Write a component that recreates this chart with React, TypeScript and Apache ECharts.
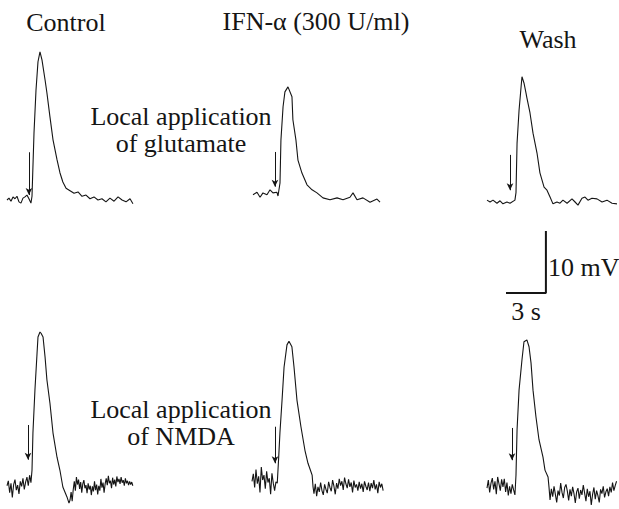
import React, { useEffect, useRef } from "react";
import * as echarts from "echarts";

// ---------- text ----------
const columnTitles = ["Control", "IFN-α (300 U/ml)", "Wash"];
const gluLabel = ["Local application", "of glutamate"];
const nmdaLabel = ["Local application", "of NMDA"];
const scaleLabels = ["10 mV", "3 s"];
const scaleBarSec = 3;
const scaleBarMv = 10;

// ---------- traces: [time (s), membrane potential change (mV)] ----------
const gluControl = [
  [0, 0], [0.15, 0.3], [0.3, -0.2], [0.45, 0.5], [0.6, 0.2], [0.75, 0.6], [0.9, -0.3], [1.05, -0.5],
  [1.2, 0.3], [1.35, 0.5], [1.5, 0.8], [1.65, 0.2], [1.8, -0.5], [1.88, 0.6], [2.03, 10.8], [2.18, 17.7],
  [2.33, 22.3], [2.48, 23.9], [2.63, 22.6], [2.86, 19.4], [3.0, 17.3], [3.23, 13.4], [3.46, 9.7],
  [3.76, 6.5], [3.98, 4.4], [4.2, 2.9], [4.44, 1.9], [4.74, 1.5], [5.04, 1.1], [5.34, 1.3], [5.64, 0.6],
  [5.94, 0.8], [6.24, 0.2], [6.54, 0.5], [6.84, 0], [7.14, 0.2], [7.44, -0.3], [7.74, 0.3], [8.05, -0.2],
  [8.35, 0.5], [8.65, 0], [8.95, -0.3], [9.25, 0.2], [9.47, -0.6],
];
const gluIfn = [
  [0, 0.2], [0.3, 0.6], [0.53, -0.2], [0.75, 0.5], [1.05, 0.2], [1.28, 1.0], [1.5, 0.5], [1.8, 0.6],
  [1.88, 0], [2.03, 2.1], [2.1, 9.0], [2.26, 14.4], [2.4, 16.8], [2.63, 17.6], [2.93, 16.0], [3.0, 12.3],
  [3.23, 9.0], [3.38, 5.8], [3.68, 3.7], [4.06, 1.8], [4.44, 1.0], [4.81, 0.5], [5.26, -0.3], [5.79, -0.6],
  [6.32, -0.3], [6.77, -0.6], [7.29, -0.2], [7.52, 0.5], [7.82, -0.6], [8.27, -0.3], [8.8, -1.0],
  [9.32, -0.5], [9.55, -1.0],
];
const gluWash = [
  [0, 0.3], [0.23, 0], [0.45, 0.3], [0.75, -0.2], [0.98, 0.2], [1.2, -0.3], [1.5, 0], [1.73, -0.2],
  [2.1, 0.3], [2.18, 1.5], [2.26, 9.5], [2.41, 14.8], [2.56, 18.5], [2.63, 20.2], [2.78, 19.2], [2.93, 17.6],
  [3.0, 16.8], [3.23, 14.4], [3.46, 11.1], [3.76, 7.9], [3.98, 4.7], [4.29, 2.4], [4.51, 1.9], [4.74, 0.8],
  [4.96, -0.3], [5.26, 0], [5.49, -0.2], [5.71, 0.3], [6.02, -0.2], [6.39, 0.5], [6.62, 0], [6.84, -0.5],
  [7.14, 0.6], [7.37, 0.8], [7.59, 0.3], [7.89, 0.6], [8.27, 0.5], [8.65, 0], [9.02, 0.3], [9.4, -0.2],
  [9.77, -0.3],
];
const nmdaControl = [
  [0, 0.2], [0.1, 1.0], [0.2, -0.9], [0.3, 0.6], [0.4, -1.7], [0.5, 0.4], [0.6, 1.2], [0.7, -0.5],
  [0.8, 0.3], [0.9, -1.1], [1.0, 0.9], [1.1, 0.1], [1.2, 1.4], [1.3, -0.4], [1.4, 0.8], [1.5, 1.6],
  [1.6, 0.2], [1.7, 1.9], [1.8, 0.7], [1.88, 2.7], [1.95, 8.7], [2.1, 15.6], [2.26, 21.6], [2.33, 24.2],
  [2.48, 25.0], [2.56, 24.8], [2.71, 24.2], [2.86, 21.0], [3.0, 17.3], [3.23, 13.5], [3.46, 8.7],
  [3.76, 4.8], [3.98, 2.7], [4.2, 0], [4.51, -1.6], [4.66, -2.6], [4.74, -2.1], [4.82, -0.8], [4.9, -2.3],
  [4.98, -0.4], [5.06, 0.9], [5.14, -0.6], [5.22, 1.6], [5.3, 0.4], [5.38, 1.2], [5.46, -0.3], [5.54, 0.8],
  [5.62, -0.9], [5.7, 0.5], [5.78, 1.1], [5.86, -0.2], [5.94, 0.3], [6.02, -1.0], [6.1, 0.6], [6.18, -0.4],
  [6.26, 0.2], [6.34, -1.3], [6.42, 0.1], [6.5, -0.7], [6.58, 0.9], [6.66, -0.5], [6.74, 0.4], [6.82, -1.2],
  [6.9, 0.2], [6.98, -0.6], [7.06, 1.3], [7.14, -0.1], [7.22, 0.7], [7.3, -0.9], [7.38, 0.5], [7.46, 1.4],
  [7.54, 0.3], [7.62, 1.8], [7.7, 0.6], [7.78, 1.0], [7.86, -0.2], [7.94, 1.5], [8.02, 0.4], [8.1, 1.2],
  [8.18, 0.1], [8.26, 1.7], [8.34, 0.8], [8.42, 1.3], [8.5, 0.5], [8.58, 1.6], [8.66, 0.7], [8.74, 1.1],
  [8.82, 0.2], [8.9, 1.4], [8.98, 0.6], [9.06, 1.0], [9.14, 0.3], [9.22, 0.9], [9.3, 0.4], [9.38, 0.8],
  [9.46, 0.2],
];
const nmdaIfn = [
  [0, 0.6], [0.1, 1.8], [0.2, -0.4], [0.3, 2.5], [0.4, 0.2], [0.5, 1.4], [0.6, -1.2], [0.7, 2.9],
  [0.8, 0.8], [0.9, 1.6], [1.0, -0.6], [1.1, 2.2], [1.2, 0.4], [1.3, 1.1], [1.4, -1.5], [1.5, 1.9],
  [1.6, 0.3], [1.7, -0.9], [1.8, 0.5], [1.9, 0.3], [2.0, 4.2], [2.1, 8.4], [2.26, 13.7], [2.41, 19.0],
  [2.63, 22.6], [2.78, 23.2], [3.0, 22.3], [3.16, 19.0], [3.38, 13.7], [3.68, 9.4], [3.98, 5.6],
  [4.21, 3.5], [4.44, 2.1], [4.52, 1.6], [4.59, -0.3], [4.66, -1.4], [4.76, 0.2], [4.86, -1.8],
  [4.96, -0.3], [5.06, -1.1], [5.16, 0.4], [5.26, -0.9], [5.36, -1.6], [5.46, 0.1], [5.56, -0.7],
  [5.66, -1.3], [5.76, 0.5], [5.86, -0.4], [5.96, -1.0], [6.06, 0.8], [6.16, -0.2], [6.26, -1.5],
  [6.36, 0.3], [6.46, -0.6], [6.56, 1.0], [6.66, -0.1], [6.76, 0.6], [6.86, -0.8], [6.96, 1.2],
  [7.06, 0.2], [7.16, -0.5], [7.26, 0.9], [7.36, -0.3], [7.46, 0.4], [7.56, -1.2], [7.66, 0.7],
  [7.76, -0.4], [7.86, 0.1], [7.96, -0.9], [8.06, 0.5], [8.16, -0.6], [8.26, 0.2], [8.36, -1.1],
  [8.46, 0.6], [8.56, -0.2], [8.66, -0.8], [8.76, 0.4], [8.86, -1.0], [8.96, 0.3], [9.06, -0.5],
  [9.16, 0.8], [9.26, -0.7], [9.36, 0.1], [9.46, -1.3], [9.56, 0.5], [9.66, -0.4], [9.76, 0.2],
  [9.86, -0.9],
];
const nmdaWash = [
  [0, -0.5], [0.1, 0.8], [0.2, -1.2], [0.3, 0.3], [0.4, 1.1], [0.5, -0.7], [0.6, 0.6], [0.7, -1.5],
  [0.8, 1.3], [0.9, 0.2], [1.0, -0.9], [1.1, 0.9], [1.2, -0.3], [1.3, 1.0], [1.4, -1.1], [1.5, 0.4],
  [1.6, -1.7], [1.7, -0.2], [1.8, -1.4], [1.9, 0.1], [2.0, -0.8], [2.1, -1.6], [2.18, 1.6], [2.26, 8.9],
  [2.41, 15.3], [2.63, 20.2], [2.78, 23.1], [3.0, 23.4], [3.16, 22.3], [3.31, 19.7], [3.46, 15.3],
  [3.68, 11.0], [3.91, 7.3], [4.21, 4.5], [4.36, 2.4], [4.59, 1.3], [4.66, -0.3], [4.74, -2.4],
  [4.84, -0.6], [4.94, -1.9], [5.04, -0.2], [5.14, -1.5], [5.24, -2.8], [5.34, -0.9], [5.44, -1.7],
  [5.54, 0.3], [5.64, -1.2], [5.74, -2.1], [5.84, -0.4], [5.94, 0.1], [6.04, -1.0], [6.14, -2.5],
  [6.24, -0.7], [6.34, -1.8], [6.44, -0.3], [6.54, -1.4], [6.64, -2.9], [6.74, -1.1], [6.84, -0.5],
  [6.94, -2.2], [7.04, -0.8], [7.14, -1.6], [7.24, 0.0], [7.34, -1.3], [7.44, -2.6], [7.54, -0.6],
  [7.64, -1.9], [7.74, -1.0], [7.84, -3.2], [7.94, -1.5], [8.04, -0.4], [8.14, -2.3], [8.24, -0.9],
  [8.34, -1.7], [8.44, -2.8], [8.54, -0.7], [8.64, -1.4], [8.74, -0.2], [8.84, -2.0], [8.94, -1.1],
  [9.04, -0.6], [9.14, -1.8], [9.24, -0.3], [9.34, -1.2], [9.44, 0.4], [9.54, -0.9], [9.64, -0.1],
  [9.74, 0.6],
];

// application arrows: [time (s), top (mV), tip (mV)]
const gluArrows = [[1.65, 7.7, 0.8], [1.65, 7.1, 1.5], [1.73, 7.6, 1.9]];
const nmdaArrows = [[1.58, 10.0, 4.4], [1.73, 9.4, 3.5], [1.88, 9.2, 4.0]];

const traces = [gluControl, gluIfn, gluWash, nmdaControl, nmdaIfn, nmdaWash];
const arrows = [...gluArrows, ...nmdaArrows];

// ---------- layout ----------
const PX_PER_S = 13.3;
const PX_PER_MV = 6.2;
const X_MAX = 10;
const Y_MIN = -4;
const Y_MAX = 26;
// [left px of t=0, y px of 0 mV]
const panelPos = [
  [7, 200], [253, 196], [487, 202],
  [7, 487], [252, 485], [487, 485],
];
const FONT = "Liberation Serif";
const INK = "#151515";

function text(t: string, x: number, y: number, align: string = "center") {
  return {
    type: "text",
    x,
    y,
    silent: true,
    style: {
      text: t,
      fontSize: 26,
      lineHeight: 27,
      fontFamily: FONT,
      fill: INK,
      align,
      verticalAlign: "middle",
      textAlign: align,
      textVerticalAlign: "middle",
    },
  };
}

export default function App() {
  const ref = useRef<HTMLDivElement>(null);
  useEffect(() => {
    if (!ref.current) return;
    const chart = echarts.init(ref.current, null, { renderer: "svg" });
    const grids: any[] = [];
    const xAxes: any[] = [];
    const yAxes: any[] = [];
    const series: any[] = [];
    panelPos.forEach(([left, base], i) => {
      grids.push({
        left,
        top: base - Y_MAX * PX_PER_MV,
        width: X_MAX * PX_PER_S,
        height: (Y_MAX - Y_MIN) * PX_PER_MV,
        outerBoundsMode: "none",
      });
      xAxes.push({ type: "value", gridIndex: i, min: 0, max: X_MAX, show: false });
      yAxes.push({ type: "value", gridIndex: i, min: Y_MIN, max: Y_MAX, show: false });
      const [ta, top, tip] = arrows[i];
      series.push({
        type: "line",
        xAxisIndex: i,
        yAxisIndex: i,
        data: traces[i],
        symbol: "none",
        clip: false,
        lineStyle: { color: INK, width: 1.1 },
        silent: true,
        markLine: {
          silent: true,
          symbol: ["none", "arrow"],
          symbolSize: [5, 7],
          label: { show: false },
          lineStyle: { color: INK, width: 1, type: "solid" },
          data: [[{ coord: [ta, top] }, { coord: [ta, tip] }]],
        },
      });
    });
    // scale bar panel
    const sbLeft = 506;
    const sbBottom = 293;
    grids.push({
      left: sbLeft,
      top: sbBottom - scaleBarMv * PX_PER_MV,
      width: scaleBarSec * PX_PER_S,
      height: scaleBarMv * PX_PER_MV,
      outerBoundsMode: "none",
    });
    xAxes.push({ type: "value", gridIndex: 6, min: 0, max: scaleBarSec, show: false });
    yAxes.push({ type: "value", gridIndex: 6, min: 0, max: scaleBarMv, show: false });
    series.push({
      type: "line",
      xAxisIndex: 6,
      yAxisIndex: 6,
      data: [[0, 0], [scaleBarSec, 0], [scaleBarSec, scaleBarMv]],
      symbol: "none",
      clip: false,
      silent: true,
      lineStyle: { color: INK, width: 2 },
    });

    chart.setOption({
      animation: false,
      backgroundColor: "#ffffff",
      grid: grids,
      xAxis: xAxes,
      yAxis: yAxes,
      series,
      graphic: [
        text(columnTitles[0], 66, 22),
        text(columnTitles[1], 316, 21),
        text(columnTitles[2], 548, 39),
        text(gluLabel.join("\n"), 181, 130),
        text(nmdaLabel.join("\n"), 181, 423),
        text(scaleLabels[0], 548, 267, "left"),
        text(scaleLabels[1], 526, 311),
      ],
    });
    return () => chart.dispose();
  }, []);
  return (
    <div
      ref={ref}
      style={{ position: "absolute", left: 0, top: 0, width: 619, height: 509, background: "#fff" }}
    />
  );
}
